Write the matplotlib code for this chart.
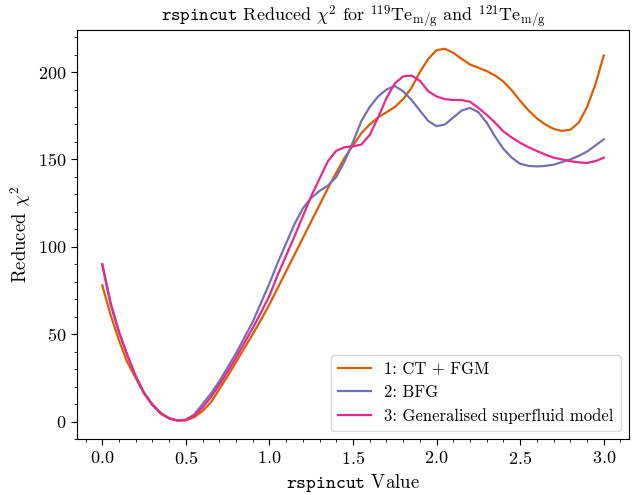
import matplotlib
matplotlib.use("Agg")
from matplotlib import pyplot as plt
from matplotlib.ticker import MultipleLocator

plt.rcParams['font.family'] = 'serif'
plt.rcParams['font.serif'] = ['cmr10', 'DejaVu Serif']
plt.rcParams['mathtext.fontset'] = 'cm'
plt.rcParams['axes.formatter.use_mathtext'] = True
plt.rcParams['axes.unicode_minus'] = False

# rspincut values (0.0 .. 3.0, step 0.05)
rspincut = [i / 20 for i in range(61)]

# reduced chi^2 for each level density model
ct_fgm = [78, 61, 46.5, 34, 25, 16, 9.5, 4.5, 1.8, 0.5,
          0.7, 2.5, 6, 11, 18.5, 26, 34, 42, 50, 58.3,
          67, 76.5, 86, 95.5, 105, 114.5, 124, 133.5, 142.5, 151,
          158, 165, 170, 174, 177, 180, 184.5, 191, 200, 207.5,
          212.5, 213.3, 211, 207.5, 204.3, 202.5, 200.5, 198, 194.5, 189.5,
          183.5, 178, 173.5, 170, 167.5, 166.3, 167, 171, 180, 193, 209.5]
bfg = [90, 67, 51, 38, 26, 16.5, 10, 5, 2, 0.7,
       1, 4, 10, 16, 23, 31, 39, 48, 57, 68,
       79, 91, 102, 113, 122, 128, 132, 135, 140, 149,
       160, 172, 180, 186, 190, 192, 189, 184, 178, 172,
       169, 170, 174, 178, 179.5, 177, 171, 163, 156, 151,
       147.5, 146.3, 146, 146.3, 147, 148.5, 150, 152, 154.5, 158, 161.5]
gsm = [90, 68, 51.5, 38, 26, 16.5, 9.5, 4.7, 1.8, 0.6,
       1, 3.5, 8, 14, 21, 28.5, 36.5, 45, 53.5, 62.5,
       72, 84, 95, 106, 117.5, 129, 139, 149, 155, 157,
       157.5, 158.5, 164, 174, 185, 193.5, 197.5, 198, 195, 189,
       186, 184.5, 184, 184, 183, 179.5, 175.5, 171, 166, 162.5,
       159.5, 157, 154.8, 152.8, 151, 150, 149, 148.3, 148, 149, 151]

labels = ['1: CT + FGM', '2: BFG', '3: Generalised superfluid model']
colors = ['#d95f02', '#7570b3', '#e7298a']

fig = plt.figure(figsize=(6.43, 4.95), dpi=100)
ax = fig.add_subplot(111)
fig.subplots_adjust(left=0.120, right=0.978, top=0.939, bottom=0.1125)

for y, lab, c in zip([ct_fgm, bfg, gsm], labels, colors):
    ax.plot(rspincut, y, color=c, lw=1.6, label=lab)

ax.set_title(r"$\mathtt{rspincut}$ Reduced $\chi^2$ for "
             r"$^{119}\mathrm{Te}_{\mathrm{m/g}}$ and "
             r"$^{121}\mathrm{Te}_{\mathrm{m/g}}$", fontsize=13)
ax.set_xlabel(r"$\mathtt{rspincut}$ Value", fontsize=13.5)
ax.set_ylabel(r"Reduced $\chi^2$", fontsize=13.5)

ax.xaxis.set_minor_locator(MultipleLocator(0.1))
ax.yaxis.set_minor_locator(MultipleLocator(10))
ax.tick_params(axis='both', which='major', labelsize=13, direction='out', length=4)
ax.tick_params(axis='both', which='minor', direction='out', length=2)

ax.legend(loc='lower right', fontsize=12)

fig.savefig('out.png', dpi=100)
